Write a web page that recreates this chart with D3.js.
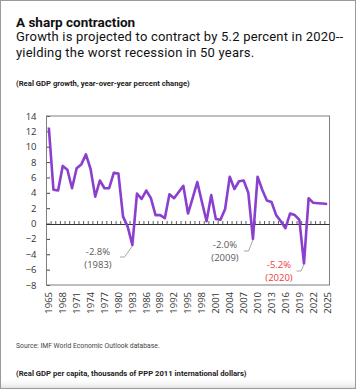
<!DOCTYPE html>
<html><head><meta charset="utf-8">
<script src="https://cdn.jsdelivr.net/npm/d3@7/dist/d3.min.js"></script>
<style>html,body{margin:0;padding:0;background:#fff;}svg{display:block;}</style>
</head><body>
<script>
const years = d3.range(1965, 2026);
const growth = [12.5,4.4,4.3,7.5,7.0,4.6,7.2,7.7,9.0,7.1,
  3.5,5.6,4.6,4.6,6.6,6.5,0.9,-0.4,-2.8,3.9,
  3.2,4.3,3.3,1.1,1.1,0.7,3.8,3.3,4.1,4.9,
  1.3,3.3,5.4,2.8,0.3,3.7,0.6,0.5,1.9,6.1,
  4.5,5.5,5.6,4.0,-2.0,6.1,4.4,3.0,2.8,1.1,
  0.3,-0.6,1.3,1.1,0.5,-5.2,3.3,2.7,2.65,2.6,2.55];
const yTicks = [-8,-6,-4,-2,0,2,4,6,8,10,12,14];
const xLabelYears = d3.range(1965, 2026, 3);
const annotations = [
  {year:1983, value:-2.8, text:"-2.8%", sub:"(1983)", color:"#595959"},
  {year:2009, value:-2.0, text:"-2.0%", sub:"(2009)", color:"#595959"},
  {year:2020, value:-5.2, text:"-5.2%", sub:"(2020)", color:"#ef3b3b"}
];

(function(){
const W = 359, H = 391;
const svg = d3.select("body").append("svg").attr("width", W).attr("height", H);

// card
const defs = svg.append("defs");
const grad = defs.append("linearGradient").attr("id","shadow").attr("x1",0).attr("x2",0).attr("y1",0).attr("y2",1);
grad.append("stop").attr("offset","0%").attr("stop-color","#fff").attr("stop-opacity",0);
grad.append("stop").attr("offset","100%").attr("stop-color","#e2e2e2").attr("stop-opacity",1);
svg.append("rect").attr("x",1).attr("y",378).attr("width",354).attr("height",10).attr("fill","url(#shadow)");
svg.append("rect").attr("x",0.5).attr("y",0.5).attr("width",355).attr("height",388)
  .attr("fill","none").attr("stroke","#9a9a9a").attr("stroke-width",1);

const font = "Roboto, 'Open Sans', sans-serif";
svg.append("text").attr("x",16).attr("y",26.5).attr("font-family",font).attr("font-weight","bold")
  .attr("font-size",13.5).attr("fill","#111").text("A sharp contraction");
svg.append("text").attr("x",16).attr("y",41.3).attr("font-family",font).attr("font-size",13)
  .attr("letter-spacing",0.2).attr("fill","#111").text("Growth is projected to contract by 5.2 percent in 2020--");
svg.append("text").attr("x",16).attr("y",56.5).attr("font-family",font).attr("font-size",13)
  .attr("letter-spacing",0.2).attr("fill","#111").text("yielding the worst recession in 50 years.");
svg.append("text").attr("x",16).attr("y",86).attr("font-family",font).attr("font-weight","bold")
  .attr("font-size",7.7).attr("fill","#222").text("(Real GDP growth, year-over-year percent change)");
svg.append("text").attr("x",16).attr("y",348).attr("font-family",font)
  .attr("font-size",6.8).attr("fill","#444").text("Source: IMF World Economic Outlook database.");
svg.append("text").attr("x",16).attr("y",376).attr("font-family",font).attr("font-weight","bold")
  .attr("font-size",7.7).attr("fill","#222").text("(Real GDP per capita, thousands of PPP 2011 international dollars)");

// scales
const pLeft = 46.5, pRight = 329.5, pTop = 116, pBottom = 285;
const x = d3.scaleBand().domain(years).range([pLeft, pRight]).padding(0);
const cx = d => x(d) + x.bandwidth()/2;
const y = d3.scaleLinear().domain([-8, 14]).range([pBottom, pTop]);

const axFont = "'Open Sans', sans-serif";
// y axis
const yAxis = svg.append("g").attr("transform",`translate(${pLeft},0)`)
  .call(d3.axisLeft(y).tickValues(yTicks).tickSizeInner(-3.5).tickSizeOuter(0).tickPadding(10));
yAxis.select(".domain").remove();
yAxis.selectAll("line").attr("stroke","#444");
yAxis.selectAll("text").attr("font-family",axFont).attr("font-size",9.5).attr("fill","#333");

// frame
svg.append("rect").attr("x",pLeft).attr("y",pTop).attr("width",pRight-pLeft).attr("height",pBottom-pTop)
  .attr("fill","none").attr("stroke","#7f7f7f").attr("stroke-width",1);

// zero axis with category ticks between bands
const zeroAxis = svg.append("g").attr("transform",`translate(0,${Math.round(y(0))+0.5})`);
zeroAxis.append("line").attr("x1",pLeft).attr("x2",pRight).attr("stroke","#333").attr("stroke-width",1);
const bounds = years.slice(1).map(yr => x(yr));
zeroAxis.selectAll("line.tk").data(bounds).enter().append("line").attr("class","tk")
  .attr("x1",d=>d).attr("x2",d=>d).attr("y1",0).attr("y2",-3.5).attr("stroke","#333").attr("stroke-width",0.8);

// x labels
svg.append("g").selectAll("text").data(xLabelYears).enter().append("text")
  .attr("transform", d => `translate(${cx(d)},${pBottom+7}) rotate(-90)`)
  .attr("text-anchor","end").attr("dy","0.35em")
  .attr("font-family",axFont).attr("font-size",9.5).attr("fill","#333").text(d=>d);

// line
const line = d3.line().x((d,i)=>cx(years[i])).y(d=>y(d));
svg.append("path").datum(growth).attr("d",line).attr("fill","none")
  .attr("stroke","#8a3fcf").attr("stroke-width",2.6).attr("stroke-linejoin","round");

// annotations
const annPos = {1983:{tx:98, ty:252, lx:120, ly:257}, 2009:{tx:225, ty:245, lx:244, ly:251}, 2020:{tx:279, ty:265, lx:296.5, ly:271}};
annotations.forEach(a => {
  const p = annPos[a.year];
  const px = cx(a.year), py = y(a.value);
  svg.append("path").attr("d",`M${p.lx},${p.ly}H${p.lx+4.5}L${px},${py+1}`)
    .attr("fill","none").attr("stroke","#a6a6a6").attr("stroke-width",1);
  svg.append("text").attr("x",p.tx).attr("y",p.ty).attr("text-anchor","middle").attr("dy","0.35em")
    .attr("font-family",axFont).attr("font-size",9.5).attr("fill",a.color).text(a.text);
  svg.append("text").attr("x",p.tx).attr("y",p.ty+13).attr("text-anchor","middle").attr("dy","0.35em")
    .attr("font-family",axFont).attr("font-size",9.5).attr("fill",a.color).text(a.sub);
});
})();
</script>
</body></html>
